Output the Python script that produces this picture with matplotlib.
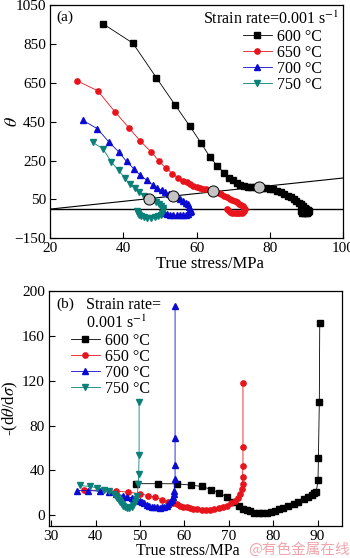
import matplotlib
matplotlib.use("Agg")
import matplotlib.pyplot as plt

plt.rcParams['font.family'] = ['Liberation Serif', 'DejaVu Serif']
plt.rcParams['mathtext.fontset'] = 'stix'

# ---- (a) theta vs true stress ----
s600_a = [34.5, 42.6, 49.0, 54.1, 58.2, 61.2, 63.6, 65.7, 67.5, 68.9, 70.0, 71.0, 72.0,
          73.0, 74.0, 75.0, 76.0, 77.0, 78.0, 79.0, 80.0, 81.0, 82.0, 83.0, 84.0, 85.0,
          85.8, 86.6, 87.3, 88.0, 88.6, 89.1, 89.6, 90.0, 90.4, 90.6, 90.5, 90.2, 89.8,
          89.3, 88.8, 88.4]
t600_a = [953, 854, 677, 537, 426, 341, 270, 221, 188, 161, 148, 136, 126,
          119, 116, 114, 113, 112, 111, 109, 106, 101, 95, 88, 80, 70,
          61, 52, 43, 33, 24, 16, 8, 2, -4, -10, -16, -20, -22,
          -22, -18, -10]

s650_a = [27.4, 33.0, 37.7, 41.5, 44.7, 47.7, 49.8, 51.6, 53.4, 55.0, 56.4, 57.3, 58.2,
          59.1, 60.0, 60.9, 61.8, 62.7, 63.6, 64.5, 65.3, 66.1, 66.8, 67.6, 68.4, 69.1,
          69.8, 70.5, 71.1, 71.7, 72.2, 72.7, 73.0, 73.2, 73.1, 72.7, 72.3, 71.7, 71.1,
          70.5, 69.8, 69.1, 68.7, 68.4]
t650_a = [660, 609, 501, 419, 349, 293, 246, 212, 183, 161, 147, 137, 127,
          121, 115, 110, 105, 101, 97, 93, 88, 82, 76, 70, 63, 54,
          48, 42, 36, 28, 22, 16, 8, -1, -8, -14, -18, -21, -22,
          -22, -20, -15, -7, 2]

s700_a = [28.9, 32.9, 36.0, 38.7, 40.9, 42.9, 44.7, 46.4, 48.0, 49.3, 50.5, 51.5, 52.6,
          53.7, 54.7, 55.6, 56.4, 57.1, 57.6, 58.0, 58.3, 58.4, 58.2, 57.8, 57.2, 56.4,
          55.5, 54.6, 53.7, 52.8, 51.9, 51.2]
t700_a = [457, 414, 347, 295, 245, 207, 173, 149, 125, 108, 96, 87, 78,
          70, 62, 53, 44, 34, 24, 13, 2, -8, -17, -24, -29, -31,
          -32, -32, -31, -29, -26, -22]

s750_a = [31.6, 34.5, 36.7, 38.7, 40.4, 41.8, 43.1, 44.4, 45.6, 46.9, 48.0, 49.0, 49.8,
          50.4, 50.8, 50.9, 50.7, 50.2, 49.5, 48.6, 47.6, 46.6, 45.7, 44.9, 44.3, 43.9,
          43.7]
t750_a = [344, 310, 243, 200, 159, 128, 108, 87, 67, 54, 47, 38, 28,
          17, 5, -7, -18, -28, -36, -42, -45, -45, -42, -36, -28, -20,
          -12]

line_x = [20, 100]
line_y = [0, 160]
zero_x = [20, 100]
zero_y = [0, 0]
circ_x = [47.0, 53.7, 64.6, 77.0]
circ_y = [54, 68, 92, 112]

# ---- (b) -(dtheta/dsigma) vs true stress ----
s600_b = [49.0, 54.1, 58.3, 61.5, 63.9, 66.1, 67.9, 69.6, 71.1, 72.2, 73.3, 74.0, 74.8,
          75.7, 76.7, 77.6, 78.6, 79.5, 80.5, 81.4, 82.3, 83.4, 84.6, 85.7, 86.9, 87.8,
          88.8, 89.3, 89.7, 90.1, 90.2, 90.4, 90.5]
v600_b = [28.0, 28.0, 27.9, 26.7, 25.5, 22.8, 19.8, 15.9, 12.0, 8.4, 5.4, 4.2, 3.2,
          2.2, 1.4, 1.4, 1.8, 2.8, 3.9, 5.0, 6.3, 8.0, 9.9, 12.0, 14.4, 16.2,
          18.0, 19.4, 20.4, 30.9, 51.0, 101.0, 172.0]

s650_b = [37.4, 44.7, 47.4, 50.0, 51.9, 53.4, 54.9, 56.4, 57.5, 58.3, 59.0, 59.8, 60.5,
          61.3, 62.0, 62.8, 63.9, 64.8, 65.8, 66.6, 67.7, 68.6, 69.6, 70.5, 71.4, 72.0,
          72.6, 73.0, 73.1, 73.1, 73.2, 73.2, 73.2]
v650_b = [22.5, 21.3, 20.4, 18.9, 17.4, 15.9, 13.8, 12.0, 10.5, 9.4, 8.4, 7.6, 6.8,
          6.0, 5.4, 5.0, 4.8, 4.6, 4.7, 5.0, 6.0, 7.0, 8.4, 10.5, 12.9, 15.5,
          18.9, 23.5, 27.9, 33.9, 43.5, 60.9, 118.0]

s700_b = [35.7, 38.3, 41.0, 43.1, 44.7, 46.1, 47.1, 48.1, 48.7, 49.3, 49.9, 50.4, 51.0,
          51.5, 52.1, 52.6, 53.2, 53.8, 54.4, 54.9, 55.5, 56.0, 56.4, 56.8, 57.1, 57.4,
          57.6, 57.7, 57.9, 57.9, 57.9, 57.9]
v700_b = [21.9, 21.9, 21.3, 20.4, 18.9, 17.4, 16.5, 15.3, 14.4, 13.5, 12.5, 11.4, 10.3,
          9.3, 8.3, 7.5, 7.0, 6.8, 6.7, 6.8, 7.4, 8.4, 9.8, 11.4, 13.5, 15.9,
          18.8, 21.9, 32.4, 44.4, 68.5, 187.0]

s750_b = [36.5, 38.7, 40.4, 41.9, 43.1, 44.1, 44.5, 44.9, 45.2, 45.5, 45.9, 46.2, 46.6,
          47.1, 47.6, 48.1, 48.5, 48.9, 49.2, 49.4, 49.6, 49.7, 49.8, 49.8]
v750_b = [26.4, 25.5, 24.3, 22.8, 21.3, 18.9, 17.1, 15.3, 13.6, 12.0, 10.2, 8.4, 7.2,
          6.3, 6.3, 6.8, 8.8, 11.4, 14.3, 17.4, 27.9, 36.3, 53.4, 101.4]

labels = ['600 \u00b0C', '650 \u00b0C', '700 \u00b0C', '750 \u00b0C']
colors = ['#000000', '#e8141c', '#0a0ad2', '#0b8079']
markers = ['s', 'o', '^', 'v']

fig = plt.figure(figsize=(3.5, 5.58), dpi=100)
ax1 = fig.add_axes([0.143, 0.573, 0.837, 0.418])
ax2 = fig.add_axes([0.140, 0.057, 0.837, 0.421])

# panel (a)
ax1.plot(zero_x, zero_y, color='black', lw=1.0, zorder=1)
ax1.plot(line_x, line_y, color='black', lw=0.8, zorder=1)
data_a = [(s600_a, t600_a), (s650_a, t650_a), (s700_a, t700_a), (s750_a, t750_a)]
for (x, y), c, m, lab in zip(data_a, colors, markers, labels):
    ax1.plot(x, y, color=c, marker=m, ms=3.8, lw=0.6, label=lab, zorder=2)
ax1.plot(circ_x, circ_y, 'o', ms=8, mfc='#c4c4c4', mec='black', mew=0.7, zorder=4)
ax1.set_xlim(20, 100)
ax1.set_ylim(-150, 1050)
ax1.set_xticks([20, 40, 60, 80, 100])
ax1.set_yticks([-150, 50, 250, 450, 650, 850, 1050])
ax1.set_xlabel('True stress/MPa', fontsize=12, labelpad=0)
ax1.xaxis.set_label_coords(0.545, -0.075)
ax1.set_ylabel(r'$\theta$', fontsize=13)
ax1.yaxis.set_label_coords(-0.10, 0.5)
ax1.text(0.02, 0.975, '(a)', transform=ax1.transAxes, fontsize=11, va='top')
ax1.text(0.985, 0.975, 'Strain rate=0.001 s$^{-1}$', transform=ax1.transAxes,
         fontsize=11.5, va='top', ha='right')
ax1.legend(loc='upper left', bbox_to_anchor=(243 / 350, 1 - 29 / 558),
           bbox_transform=fig.transFigure, frameon=False, fontsize=11.5,
           handlelength=1.8, handletextpad=0.3, labelspacing=0.0,
           borderpad=0, borderaxespad=0)

# panel (b)
data_b = [(s600_b, v600_b), (s650_b, v650_b), (s700_b, v700_b), (s750_b, v750_b)]
for (x, y), c, m, lab in zip(data_b, colors, markers, labels):
    ax2.plot(x, y, color=c, marker=m, ms=3.8, lw=0.6, label=lab)
ax2.set_xlim(29.5, 95.5)
ax2.set_ylim(-10, 200)
ax2.set_xticks([30, 40, 50, 60, 70, 80, 90])
ax2.set_yticks([0, 40, 80, 120, 160, 200])
ax2.set_xlabel('True stress/MPa', fontsize=11.5, labelpad=0)
ax2.xaxis.set_label_coords(0.475, -0.072)
ax2.set_ylabel(r'-(d$\theta$/d$\sigma$)', fontsize=12)
ax2.yaxis.set_label_coords(-0.10, 0.5)
ax2.text(0.025, 0.975, '(b)', transform=ax2.transAxes, fontsize=11, va='top')
ax2.text(0.125, 0.975, 'Strain rate=\n0.001 s$^{-1}$', transform=ax2.transAxes,
         fontsize=11.5, va='top', ha='left', linespacing=1.12)
ax2.legend(loc='upper left', bbox_to_anchor=(71 / 350, 1 - 333 / 558),
           bbox_transform=fig.transFigure, frameon=False, fontsize=11.5,
           handlelength=1.8, handletextpad=0.3, labelspacing=0.0,
           borderpad=0, borderaxespad=0)

for ax in (ax1, ax2):
    ax.tick_params(direction='in', length=4, width=0.8, labelsize=11,
                   top=False, right=False, pad=3)
    for sp in ax.spines.values():
        sp.set_linewidth(0.9)

fig.text(0.998, 0.002, '@有色金属在线', ha='right', va='bottom', fontsize=10.5,
         color='#f2a4aa', family=['Noto Sans CJK SC', 'DejaVu Sans'])

fig.savefig('out.png', dpi=100)
